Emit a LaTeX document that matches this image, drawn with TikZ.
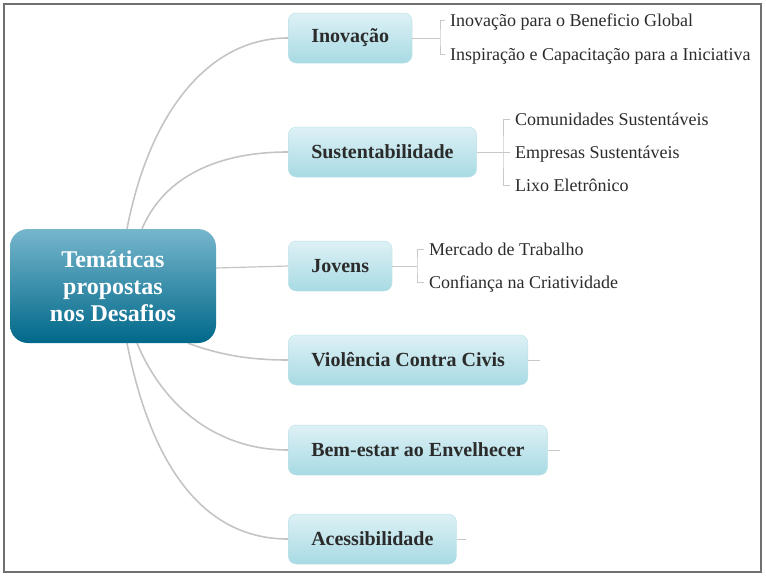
\documentclass[tikz,border=0pt]{standalone}
\usepackage{fontspec}
\setmainfont{Liberation Serif}
\usetikzlibrary{backgrounds}
\definecolor{conncol}{HTML}{C4C4C4}
\definecolor{brcol}{HTML}{C8C8C8}
\definecolor{framecol}{HTML}{707070}
\definecolor{ctop}{RGB}{118,182,204}
\definecolor{cmid}{RGB}{16,118,150}
\definecolor{cbot}{RGB}{0,104,138}
\definecolor{mtop}{HTML}{DDF1F5}
\definecolor{mbot}{HTML}{A8DAE4}
\definecolor{mdraw}{HTML}{BFE2E9}
\definecolor{txt}{HTML}{2B2B2B}
\tikzset{
  central/.style={rounded corners=18pt, minimum width=206pt, minimum height=114pt,
    top color=ctop, middle color=cmid, bottom color=cbot, draw=none,
    text=white, align=center, font=\fontsize{24}{27}\selectfont\bfseries},
  mainbox/.style={rounded corners=8pt, minimum height=50pt, inner xsep=23pt,
    top color=mtop, bottom color=mbot, draw=mdraw, line width=0.5pt,
    text=txt, anchor=west, font=\fontsize{20}{24}\selectfont\bfseries},
  leaf/.style={anchor=base west, inner sep=0pt, text=txt, font=\fontsize{18}{22}\selectfont},
  conn/.style={draw=conncol, line width=1.6pt},
  br/.style={draw=brcol, line width=0.8pt},
}
\begin{document}
\begin{tikzpicture}[x=1pt,y=-1pt]
\useasboundingbox (0,0) rectangle (766,576);
\draw[framecol, line width=1.5pt] (4,4) rectangle (761,572);

\node[central] (c) at (113,286) {Temáticas\\propostas\\nos Desafios};

\node[mainbox] (inov) at (288,38) {Inovação};
\node[mainbox] (sust) at (288,152) {Sustentabilidade};
\node[mainbox] (jov) at (288,266) {Jovens};
\node[mainbox] (viol) at (288,360) {Violência Contra Civis};
\node[mainbox] (bem) at (288,450) {Bem-estar ao Envelhecer};
\node[mainbox] (aces) at (288,539) {Acessibilidade};

\begin{scope}[on background layer]
\draw[conn] ([xshift=14pt]c.north) .. controls (150,110) and (210,38) .. (inov.west);
\draw[conn] ([xshift=29pt]c.north) .. controls (165,175) and (220,152) .. (sust.west);
\draw[conn, line width=1.2pt] ([yshift=18pt]c.east) -- (jov.west);
\draw[conn] ([xshift=75pt]c.south) .. controls (220,355) and (250,360) .. (viol.west);
\draw[conn] ([xshift=24pt]c.south) .. controls (165,410) and (220,450) .. (bem.west);
\draw[conn] ([xshift=14pt]c.south) .. controls (150,460) and (200,539) .. (aces.west);
\end{scope}

% leaves
\node[leaf] (i1) at (450,26) {Inovação para o Beneficio Global};
\node[leaf] (i2) at (450,60) {Inspiração e Capacitação para a Iniciativa};
\node[leaf] (s1) at (515,125) {Comunidades Sustentáveis};
\node[leaf] (s2) at (515,158) {Empresas Sustentáveis};
\node[leaf] (s3) at (515,191) {Lixo Eletrônico};
\node[leaf] (j1) at (429,255) {Mercado de Trabalho};
\node[leaf] (j2) at (429,288) {Confiança na Criatividade};

\coordinate (bi) at (440,38);
\coordinate (bs) at (503,152);
\coordinate (bj) at (417,266);
\draw[br] (inov.east) -- (bi);
\draw[br] ([xshift=-5pt,yshift=6pt]i1.base west) -| (bi) |- ([xshift=-5pt,yshift=6pt]i2.base west);
\draw[br] (sust.east) -- ([xshift=-5pt,yshift=6pt]s2.base west);
\draw[br] ([xshift=-5pt,yshift=6pt]s1.base west) -| (bs) |- ([xshift=-5pt,yshift=6pt]s3.base west);
\draw[br] (jov.east) -- (bj);
\draw[br] ([xshift=-5pt,yshift=6pt]j1.base west) -| (bj) |- ([xshift=-5pt,yshift=6pt]j2.base west);

\coordinate (sv) at (540,360);
\coordinate (sb) at (560,450);
\coordinate (sa) at (466,539);
\draw[br] (viol.east) -- (sv);
\draw[br] (bem.east) -- (sb);
\draw[br] (aces.east) -- (sa);
\end{tikzpicture}
\end{document}
